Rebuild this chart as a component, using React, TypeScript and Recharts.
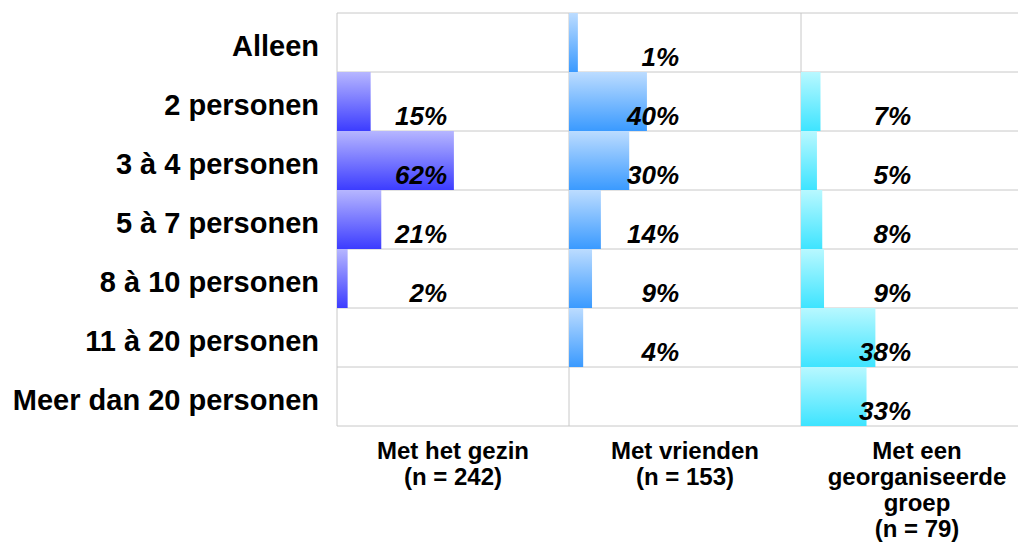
import React from "react";
import { BarChart, Bar, XAxis, YAxis, CartesianGrid, LabelList } from "recharts";

// Rows (group sizes) and the share per panel, in %
const categories = [
  "Alleen",
  "2 personen",
  "3 à 4 personen",
  "5 à 7 personen",
  "8 à 10 personen",
  "11 à 20 personen",
  "Meer dan 20 personen",
];
const gezinValues = [null, 15, 62, 21, 2, null, null];
const vriendenValues = [1, 40, 30, 14, 9, 4, null];
const groepValues = [null, 7, 5, 8, 9, 38, 33];

const gezinTitle = ["Met het gezin", "(n = 242)"];
const vriendenTitle = ["Met vrienden", "(n = 153)"];
const groepTitle = ["Met een", "georganiseerde", "groep", "(n = 79)"];

const FONT = '"Liberation Sans", Arial, Helvetica, sans-serif';
const GRID = "#c8c8c8";
const HEIGHT = 549;
const PLOT_TOP = 13;
const PLOT_H = 413;
const PANEL_W = 232;
const AXIS_W = 337;

const panels = [
  { id: "gezin", values: gezinValues, title: gezinTitle, light: "#b6b6ff", dark: "#3c3cff" },
  { id: "vrienden", values: vriendenValues, title: vriendenTitle, light: "#bcdcff", dark: "#3a9aff" },
  { id: "groep", values: groepValues, title: groepTitle, light: "#b8f8ff", dark: "#3ee4ff" },
];

// row borders instead of grid lines through the category centres
const rowLines = ({ offset }: any) =>
  categories.map((_, i) => offset.top + (i * offset.height) / categories.length).concat(offset.top + offset.height);

const panelLines = ({ offset }: any) => [offset.left, offset.left + offset.width];

function CategoryTick(props: any) {
  const { y, payload } = props;
  return (
    <text
      x={AXIS_W - 18}
      y={y + 13}
      textAnchor="end"
      fontFamily={FONT}
      fontWeight="bold"
      fontSize={29}
      fill="#000"
    >
      {payload.value}
    </text>
  );
}

// bars in the original start at the panel edge, not at the zero point
const barShape = (fill: string) => (props: any) => {
  const { x, y, width, height, background, payload } = props;
  if (payload?.value == null) return null;
  const left = background ? background.x : x;
  return <rect x={left} y={y} width={x + width - left} height={height} fill={fill} />;
};

function PctLabel(props: any) {
  const { value } = props;
  if (value == null) return null;
  const vb = props.viewBox ?? props;
  return (
    <text
      x={Number(vb.x) + 103}
      y={Number(vb.y) + Number(vb.height) - 6}
      textAnchor="end"
      fontFamily={FONT}
      fontWeight="bold"
      fontStyle="italic"
      fontSize={26}
      fill="#000"
    >
      {value}%
    </text>
  );
}

function Panel({ panel, showAxis }: { panel: (typeof panels)[number]; showAxis: boolean }) {
  const data = categories.map((name, i) => ({ name, value: panel.values[i] }));
  const width = (showAxis ? AXIS_W : 0) + PANEL_W;
  return (
    <BarChart
      layout="vertical"
      width={width}
      height={HEIGHT}
      data={data}
      margin={{ top: PLOT_TOP, right: 0, bottom: HEIGHT - PLOT_TOP - PLOT_H, left: 0 }}
      barCategoryGap={0}
    >
      <CartesianGrid
        stroke={GRID}
        strokeWidth={1}
        horizontalCoordinatesGenerator={rowLines}
        verticalCoordinatesGenerator={panelLines}
      />
      <XAxis type="number" domain={[-4, 127]} hide />
      <YAxis
        type="category"
        dataKey="name"
        width={showAxis ? AXIS_W : 0}
        hide={!showAxis}
        axisLine={false}
        tickLine={false}
        interval={0}
        tick={<CategoryTick />}
      />
      <Bar dataKey="value" shape={barShape(`url(#grad-${panel.id})`)} isAnimationActive={false}>
        <LabelList dataKey="value" content={<PctLabel />} />
      </Bar>
    </BarChart>
  );
}

export default function App() {
  return (
    <div
      style={{
        position: "absolute",
        left: 0,
        top: 0,
        width: 1018,
        height: HEIGHT,
        overflow: "hidden",
        background: "#fff",
      }}
    >
      <svg width={0} height={0} style={{ position: "absolute" }}>
        <defs>
          {panels.map((p) => (
            <linearGradient key={p.id} id={`grad-${p.id}`} x1="0" y1="0" x2="0" y2="1">
              <stop offset="0%" stopColor={p.light} />
              <stop offset="100%" stopColor={p.dark} />
            </linearGradient>
          ))}
        </defs>
      </svg>
      <div style={{ display: "flex", position: "absolute", left: 0, top: 0 }}>
        {panels.map((p, i) => (
          <Panel key={p.id} panel={p} showAxis={i === 0} />
        ))}
      </div>
      {panels.map((p, i) => (
        <div
          key={p.id + "-title"}
          style={{
            position: "absolute",
            left: AXIS_W + i * PANEL_W,
            top: 438,
            width: PANEL_W,
            textAlign: "center",
            fontFamily: FONT,
            fontWeight: "bold",
            fontSize: 24,
            lineHeight: "26px",
            color: "#000",
          }}
        >
          {p.title.map((line) => (
            <div key={line}>{line}</div>
          ))}
        </div>
      ))}
    </div>
  );
}
